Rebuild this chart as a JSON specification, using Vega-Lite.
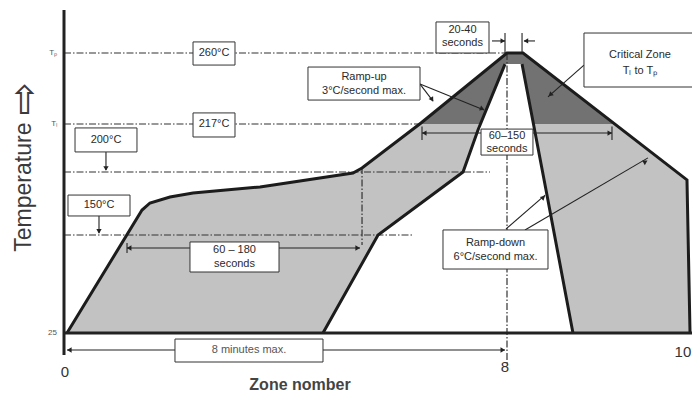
{
  "$schema": "https://vega.github.io/schema/vega-lite/v6.json",
  "width": 628,
  "height": 394,
  "autosize": "none",
  "padding": {"left": 64, "top": 0, "right": 0, "bottom": 0},
  "background": "white",
  "config": {"view": {"stroke": null}, "font": "Liberation Sans"},
  "datasets": {
    "prof": [
      {"c": "outer", "part": "outer", "x": 0.054, "t": 25},
      {"c": "outer", "part": "outer", "x": 1.409, "t": 169.8},
      {"c": "outer", "part": "outer", "x": 1.553, "t": 175.4},
      {"c": "outer", "part": "outer", "x": 1.914, "t": 180.2},
      {"c": "outer", "part": "outer", "x": 2.330, "t": 183.3},
      {"c": "outer", "part": "outer", "x": 3.540, "t": 188.1},
      {"c": "outer", "part": "outer", "x": 5.219, "t": 199.2},
      {"c": "outer", "part": "outer", "x": 5.382, "t": 201.4},
      {"c": "outer", "part": "outer", "x": 6.447, "t": 217.6},
      {"c": "outer", "part": "outer", "x": 8.0, "t": 260},
      {"c": "outer", "part": "outer", "x": 8.179, "t": 260},
      {"c": "outer", "part": "outer", "x": 10.011, "t": 193.7},
      {"c": "outer", "part": "outer", "x": 10.045, "t": 25},
      {"c": "dark", "part": "dark", "x": 6.44, "t": 217},
      {"c": "dark", "part": "dark", "x": 8.0, "t": 260},
      {"c": "dark", "part": "dark", "x": 8.179, "t": 260},
      {"c": "dark", "part": "dark", "x": 9.203, "t": 217},
      {"c": "inner", "part": "rise", "x": 4.677, "t": 25},
      {"c": "inner", "part": "rise", "x": 5.671, "t": 150},
      {"c": "inner", "part": "rise", "x": 7.206, "t": 200},
      {"c": "inner", "part": "rise", "x": 7.476, "t": 214.9},
      {"c": "inner", "part": "rise", "x": 7.964, "t": 253.3},
      {"c": "inner", "part": "fall", "x": 8.168, "t": 253.3},
      {"c": "inner", "part": "fall", "x": 8.436, "t": 185.7},
      {"c": "inner", "part": "fall", "x": 8.737, "t": 25}
    ],
    "dashed": [
      {"x": 0, "t": 260, "x2": 8, "t2": 260},
      {"x": 0, "t": 217, "x2": 6.447, "t2": 217},
      {"x": 0, "t": 200, "x2": 7.693, "t2": 200},
      {"x": 0, "t": 150, "x2": 6.303, "t2": 150},
      {"x": 8, "t": 260, "x2": 8, "t2": -13.3},
      {"x": 5.382, "t": 201.8, "x2": 5.382, "t2": 137.2}
    ],
    "axes": [
      {"x": 0, "t": 286, "x2": 0, "t2": -3},
      {"x": 0, "t": 25, "x2": 10.3, "t2": 25}
    ],
    "boxes": [
      {"x": 2.330, "t": 266.7, "x2": 3.088, "t2": 252.7},
      {"x": 2.330, "t": 223.7, "x2": 3.088, "t2": 212.4},
      {"x": 0.199, "t": 215.6, "x2": 1.318, "t2": 207.1},
      {"x": 0.072, "t": 181.7, "x2": 1.192, "t2": 165.1},
      {"x": 2.275, "t": 141.1, "x2": 3.883, "t2": 102.8},
      {"x": 2.004, "t": 17.3, "x2": 4.677, "t2": -12.0},
      {"x": 6.718, "t": 278.8, "x2": 7.675, "t2": 260},
      {"x": 4.406, "t": 251.5, "x2": 6.429, "t2": 231.5},
      {"x": 8.860, "t": 272.1, "x2": 10.3, "t2": 239.4},
      {"x": 7.531, "t": 215.2, "x2": 8.290, "t2": 206.0},
      {"x": 6.844, "t": 154.0, "x2": 8.458, "t2": 106.6}
    ],
    "arrows": [
      {"x": 0.758, "t": 207.1, "x2": 0.758, "t2": 200.7},
      {"x": 0.632, "t": 165.1, "x2": 0.632, "t2": 151.6},
      {"x": 1.138, "t": 133.4, "x2": 5.345, "t2": 133.4},
      {"x": 6.465, "t": 213.8, "x2": 9.173, "t2": 213.8},
      {"x": 0.054, "t": 3.3, "x2": 7.964, "t2": 3.3},
      {"x": 7.729, "t": 267.3, "x2": 7.964, "t2": 267.3},
      {"x": 8.313, "t": 267.3, "x2": 8.190, "t2": 267.3},
      {"x": 6.429, "t": 241.2, "x2": 6.664, "t2": 230.9},
      {"x": 6.429, "t": 241.2, "x2": 7.585, "t2": 225.5},
      {"x": 8.860, "t": 252.7, "x2": 8.458, "t2": 233.4},
      {"x": 7.982, "t": 154.8, "x2": 8.425, "t2": 181.7},
      {"x": 8.201, "t": 154.0, "x2": 9.575, "t2": 205.0},
      {"x": 7.964, "t": 272.1, "x2": 7.964, "t2": 260},
      {"x": 8.168, "t": 272.1, "x2": 8.168, "t2": 260},
      {"x": 1.138, "t": 139.8, "x2": 1.138, "t2": 127.0},
      {"x": 6.465, "t": 216.1, "x2": 6.465, "t2": 211.3},
      {"x": 9.173, "t": 216.1, "x2": 9.173, "t2": 211.3}
    ],
    "heads": [
      {"x": 0.758, "t": 201.5, "dir": 180},
      {"x": 0.632, "t": 153.5, "dir": 180},
      {"x": 1.19, "t": 133.4, "dir": 270},
      {"x": 5.29, "t": 133.4, "dir": 90},
      {"x": 6.52, "t": 213.8, "dir": 270},
      {"x": 9.14, "t": 213.8, "dir": 90},
      {"x": 0.11, "t": 3.3, "dir": 270},
      {"x": 7.91, "t": 3.3, "dir": 90},
      {"x": 7.91, "t": 267.3, "dir": 90},
      {"x": 8.22, "t": 267.3, "dir": 270},
      {"x": 6.64, "t": 232.2, "dir": 147},
      {"x": 7.54, "t": 226.3, "dir": 113},
      {"x": 8.49, "t": 235.0, "dir": 228},
      {"x": 8.40, "t": 179.5, "dir": 48},
      {"x": 9.54, "t": 203.5, "dir": 60}
    ],
    "labels": [
      {"k": "box", "x": 2.709, "t": 260, "text": "260°C"},
      {"k": "box", "x": 2.709, "t": 217, "text": "217°C"},
      {"k": "box", "x": 0.758, "t": 211.3, "text": "200°C"},
      {"k": "box", "x": 0.632, "t": 173.8, "text": "150°C"},
      {"k": "box", "x": 3.079, "t": 130.9, "text": "60 – 180"},
      {"k": "box", "x": 3.079, "t": 113.0, "text": "seconds"},
      {"k": "box", "x": 7.196, "t": 273.9, "text": "20-40"},
      {"k": "box", "x": 7.196, "t": 266.1, "text": "seconds"},
      {"k": "box", "x": 5.418, "t": 245.5, "text": "Ramp-up"},
      {"k": "box", "x": 5.418, "t": 237.0, "text": "3°C/second max."},
      {"k": "box", "x": 9.486, "t": 258.8, "text": "Critical Zone"},
      {"k": "box", "x": 9.486, "t": 249.1, "text": "Tₗ to Tₚ"},
      {"k": "box", "x": 8.0, "t": 212.8, "text": "60–150"},
      {"k": "box", "x": 8.0, "t": 208.1, "text": "seconds"},
      {"k": "box", "x": 7.793, "t": 139.8, "text": "Ramp-down"},
      {"k": "box", "x": 7.793, "t": 121.9, "text": "6°C/second max."},
      {"k": "small", "x": 3.341, "t": 3.3, "text": "8 minutes max."},
      {"k": "axis", "x": 0.018, "t": -24.7, "text": "0"},
      {"k": "axis", "x": 7.964, "t": -18.4, "text": "8"},
      {"k": "axis", "x": 9.966, "t": 0.77, "text": "10"},
      {"k": "title", "x": 4.262, "t": -41.3, "text": "Zone nomber"},
      {"k": "ytitle", "x": -0.722, "t": 188.0, "text": "Temperature"},
      {"k": "yarrow", "x": -0.70, "t": 232.5, "text": "⇨"},
      {"k": "tick", "x": -0.126, "t": 260, "text": "Tₚ"},
      {"k": "tick", "x": -0.126, "t": 217, "text": "Tₗ"},
      {"k": "tick", "x": -0.126, "t": 25, "text": "25"}
    ]
  },
  "encoding": {
    "x": {"field": "x", "type": "quantitative", "axis": null,
          "scale": {"domain": [0, 8, 10], "range": [0, 443, 622], "nice": false, "zero": false}},
    "y": {"field": "t", "type": "quantitative", "axis": null,
          "scale": {"domain": [25, 150, 200, 217, 260], "range": [333, 235, 172, 124, 53], "nice": false, "zero": false}}
  },
  "layer": [
    {"data": {"name": "prof"}, "transform": [{"filter": "datum.c === 'outer'"}],
     "mark": {"type": "area", "color": "#c2c2c2"},
     "encoding": {"y2": {"datum": 25}}},
    {"data": {"name": "prof"}, "transform": [{"filter": "datum.c === 'dark'"}],
     "mark": {"type": "area", "color": "#727272"},
     "encoding": {"y2": {"datum": 217}}},
    {"data": {"name": "prof"}, "transform": [{"filter": "datum.c === 'inner'"}],
     "mark": {"type": "area", "color": "#ffffff"},
     "encoding": {"y2": {"datum": 25}}},
    {"data": {"name": "dashed"},
     "mark": {"type": "rule", "color": "#333333", "strokeWidth": 1.2, "strokeDash": [7, 2, 1.5, 2]},
     "encoding": {"x2": {"field": "x2"}, "y2": {"field": "t2"}}},
    {"data": {"name": "prof"}, "transform": [{"filter": "datum.c !== 'dark'"}],
     "mark": {"type": "line", "color": "#1c1c1c", "strokeWidth": 3},
     "encoding": {"detail": {"field": "part"}}},
    {"data": {"name": "axes"},
     "mark": {"type": "rule", "color": "#222222", "strokeWidth": 3},
     "encoding": {"x2": {"field": "x2"}, "y2": {"field": "t2"}}},
    {"data": {"name": "arrows"},
     "mark": {"type": "rule", "color": "#222222", "strokeWidth": 1.1},
     "encoding": {"x2": {"field": "x2"}, "y2": {"field": "t2"}}},
    {"data": {"name": "heads"},
     "mark": {"type": "point", "shape": "triangle", "filled": true, "size": 28, "color": "#222222", "opacity": 1},
     "encoding": {"angle": {"field": "dir", "type": "quantitative", "scale": null}}},
    {"data": {"name": "boxes"},
     "mark": {"type": "rect", "fill": "#ffffff", "stroke": "#333333", "strokeWidth": 1},
     "encoding": {"x2": {"field": "x2"}, "y2": {"field": "t2"}}},
    {"data": {"name": "labels"}, "transform": [{"filter": "datum.k === 'box'"}],
     "mark": {"type": "text", "fontSize": 11, "color": "#2a2a2a", "baseline": "middle"},
     "encoding": {"text": {"field": "text"}}},
    {"data": {"name": "labels"}, "transform": [{"filter": "datum.k === 'small'"}],
     "mark": {"type": "text", "fontSize": 11, "color": "#555555", "baseline": "middle"},
     "encoding": {"text": {"field": "text"}}},
    {"data": {"name": "labels"}, "transform": [{"filter": "datum.k === 'axis'"}],
     "mark": {"type": "text", "fontSize": 15, "color": "#333333", "baseline": "middle"},
     "encoding": {"text": {"field": "text"}}},
    {"data": {"name": "labels"}, "transform": [{"filter": "datum.k === 'title'"}],
     "mark": {"type": "text", "fontSize": 16, "fontWeight": "bold", "color": "#444444", "baseline": "middle"},
     "encoding": {"text": {"field": "text"}}},
    {"data": {"name": "labels"}, "transform": [{"filter": "datum.k === 'ytitle'"}],
     "mark": {"type": "text", "fontSize": 23, "color": "#3a3a3a", "baseline": "middle", "angle": 270},
     "encoding": {"text": {"field": "text"}}},
    {"data": {"name": "labels"}, "transform": [{"filter": "datum.k === 'yarrow'"}],
     "mark": {"type": "text", "fontSize": 40, "font": "DejaVu Sans", "color": "#3a3a3a", "baseline": "middle", "angle": 270},
     "encoding": {"text": {"field": "text"}}},
    {"data": {"name": "labels"}, "transform": [{"filter": "datum.k === 'tick'"}],
     "mark": {"type": "text", "fontSize": 8, "color": "#555555", "baseline": "middle", "align": "right"},
     "encoding": {"text": {"field": "text"}}}
  ]
}
